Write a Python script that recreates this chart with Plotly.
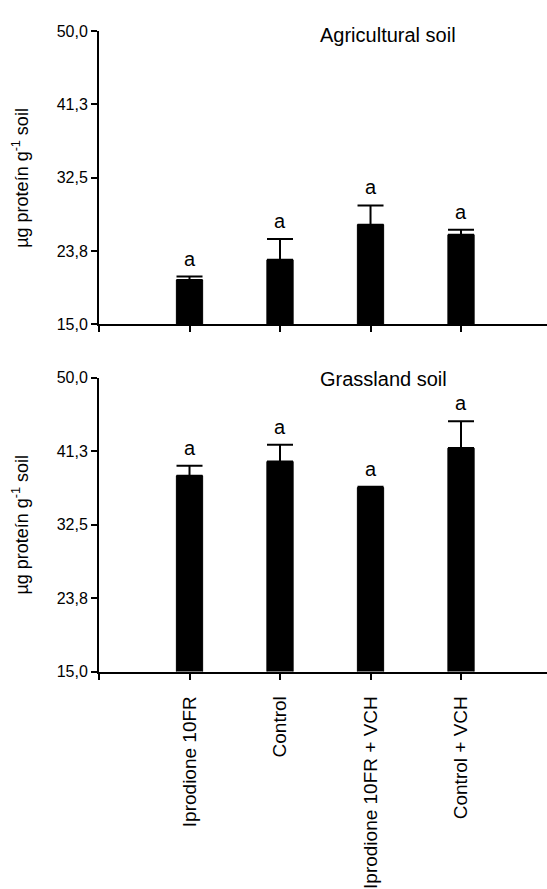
import plotly.graph_objects as go

categories = ["Iprodione 10FR", "Control", "Iprodione 10FR + VCH", "Control + VCH"]
agri_values = [20.3, 22.7, 26.9, 25.7]
agri_err = [0.4, 2.5, 2.3, 0.6]
grass_values = [38.3, 40.0, 36.9, 41.6]
grass_err = [1.2, 2.0, 0.1, 3.2]
letters_agri = ["a", "a", "a", "a"]
letters_grass = ["a", "a", "a", "a"]
ytick_vals = [15.0, 23.75, 32.5, 41.25, 50.0]
ytick_text = ["15,0", "23,8", "32,5", "41,3", "50,0"]

FONT = "Liberation Sans, Arial, sans-serif"
W, H = 547, 889
xs = list(range(len(categories)))

fig = go.Figure()

def add_panel(values, err, letters, xa, ya):
    fig.add_trace(go.Bar(
        x=xs, y=values, xaxis=xa, yaxis=ya, width=0.29,
        marker=dict(color="black", line=dict(color="black", width=1)),
        error_y=dict(type="data", array=err, arrayminus=[0]*len(err), symmetric=False,
                     color="black", thickness=2, width=13),
        showlegend=False,
    ))
    for xi, v, e, t in zip(xs, values, err, letters):
        fig.add_annotation(x=xi, y=v + e, xref=xa, yref=ya, text=t, showarrow=False,
                           xanchor="center", yanchor="bottom", yshift=5,
                           font=dict(size=20, color="black", family=FONT))

add_panel(agri_values, agri_err, letters_agri, "x", "y")
add_panel(grass_values, grass_err, letters_grass, "x2", "y2")

x0 = 99 / W
top_dom = [1 - 327 / H, 1 - 24 / H]
bot_dom = [1 - 686 / H, 1 - 382 / H]
xrange = [-1, 3.95]

axis_common = dict(showline=True, linecolor="black", linewidth=2, ticks="outside",
                   ticklen=6, tickwidth=2, tickcolor="black", showgrid=False, zeroline=False)
ytickfont = dict(size=16, color="black", family=FONT)

fig.update_layout(
    width=W, height=H, margin=dict(l=0, r=0, t=0, b=0),
    paper_bgcolor="white", plot_bgcolor="white", bargap=0.5,
    xaxis=dict(domain=[x0, 1], range=xrange, tickvals=[-1] + xs,
               ticktext=[""] * (len(xs) + 1), anchor="y", **axis_common),
    yaxis=dict(domain=top_dom, range=[15, 50], tickvals=ytick_vals, ticktext=ytick_text,
               anchor="x", tickfont=ytickfont, **axis_common),
    xaxis2=dict(domain=[x0, 1], range=xrange, tickvals=[-1] + xs,
                ticktext=[""] + categories, tickangle=-90, anchor="y2", ticklabelstandoff=9,
                tickfont=dict(size=19, color="black", family=FONT), **axis_common),
    yaxis2=dict(domain=bot_dom, range=[15, 50], tickvals=ytick_vals, ticktext=ytick_text,
                anchor="x2", tickfont=ytickfont, **axis_common),
)

ylabel = "µg proteín g<sup>-1</sup> soil"
for dom in (top_dom, bot_dom):
    fig.add_annotation(x=21 / W, y=(dom[0] + dom[1]) / 2, xref="paper", yref="paper",
                       text=ylabel, textangle=-90, showarrow=False,
                       xanchor="center", yanchor="middle",
                       font=dict(size=18, color="black", family=FONT))

fig.add_annotation(x=318 / W, y=1 - 28 / H, xref="paper", yref="paper", text="Agricultural soil",
                   showarrow=False, xanchor="left", yanchor="middle",
                   font=dict(size=20, color="black", family=FONT))
fig.add_annotation(x=318 / W, y=1 - 383 / H, xref="paper", yref="paper", text="Grassland soil",
                   showarrow=False, xanchor="left", yanchor="middle",
                   font=dict(size=20, color="black", family=FONT))

fig.write_html("out.html", config={"displayModeBar": False},
               post_script="document.body.style.margin='0';document.body.style.overflow='hidden';")
